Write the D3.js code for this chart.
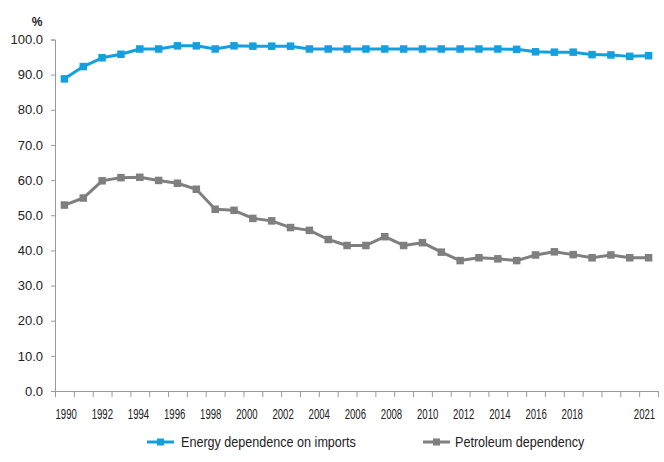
<!DOCTYPE html>
<html>
<head>
<meta charset="utf-8">
<script src="https://cdn.jsdelivr.net/npm/d3@7"></script>
<style>
  html, body { margin: 0; padding: 0; background: #fff; }
  svg { display: block; }
  text { font-family: "Liberation Sans", Arial, sans-serif; fill: #222; }
</style>
</head>
<body>
<svg id="chart" width="664" height="462"></svg>
<script>
// Years on the category axis
const years = d3.range(1990, 2022);

// Share of primary energy supplied by imports (%)
const energyImports = [
  88.8, 92.3, 94.8, 95.8, 97.3, 97.3, 98.2, 98.2, 97.3, 98.2,
  98.1, 98.1, 98.1, 97.3, 97.3, 97.3, 97.3, 97.3, 97.3, 97.3,
  97.3, 97.3, 97.3, 97.3, 97.2, 96.5, 96.4, 96.4, 95.7, 95.6,
  95.2, 95.4
];

// Petroleum share of primary energy (%)
const petroleum = [
  52.9, 54.9, 59.8, 60.7, 60.8, 59.9, 59.1, 57.4, 51.7, 51.4,
  49.1, 48.4, 46.5, 45.7, 43.1, 41.4, 41.4, 43.9, 41.4, 42.2,
  39.5, 37.1, 37.9, 37.6, 37.1, 38.7, 39.6, 38.8, 37.9, 38.7,
  37.9, 37.9
];

// Year labels printed under the axis (2020 left blank)
const yearLabels = ["1990", "1992", "1994", "1996", "1998", "2000", "2002", "2004",
  "2006", "2008", "2010", "2012", "2014", "2016", "2018", "", "2021"];

const yTicks = d3.range(0, 101, 10);

const seriesNames = ["Energy dependence on imports", "Petroleum dependency"];
const seriesColors = ["#14a0de", "#7f7f7f"];
const seriesValues = [energyImports, petroleum];

const svg = d3.select("#chart");

const plot = { left: 55, right: 658, top: 39.5, bottom: 391 };

const x = d3.scaleLinear().domain([1989.5, 2021.5]).range([plot.left, plot.right]);
const y = d3.scaleLinear().domain([0, 100]).range([plot.bottom, plot.top]);
const xLabel = d3.scalePoint().domain(yearLabels.map((d, i) => i)).range([65.7, 644]);

// Y axis
const yAxis = svg.append("g")
  .attr("transform", `translate(${plot.left},0)`)
  .call(d3.axisLeft(y).tickValues(yTicks).tickFormat(d3.format(".1f")).tickSize(4).tickPadding(8));
yAxis.select(".domain").attr("stroke", "#9a9a9a");
yAxis.selectAll(".tick line").attr("stroke", "#9a9a9a");
yAxis.selectAll(".tick text")
  .style("font-family", "'Liberation Sans', Arial, sans-serif")
  .style("font-size", "13px").attr("fill", "#333");

// X axis: tick marks at category boundaries
const boundaries = d3.range(1989.5, 2022, 1);
const xAxis = svg.append("g")
  .attr("transform", `translate(0,${plot.bottom})`)
  .call(d3.axisBottom(x).tickValues(boundaries).tickFormat("").tickSize(6).tickSizeOuter(0));
xAxis.select(".domain").attr("stroke", "#9a9a9a");
xAxis.selectAll(".tick line").attr("stroke", "#9a9a9a");

// X axis: year labels
const xLab = svg.append("g")
  .attr("transform", `translate(0,${plot.bottom})`)
  .call(d3.axisBottom(xLabel).tickFormat(i => yearLabels[i]).tickSize(0).tickPadding(17));
xLab.select(".domain").remove();
xLab.selectAll(".tick text")
  .style("font-family", "'Liberation Sans', Arial, sans-serif")
  .style("font-size", "15px").attr("fill", "#333")
  .attr("transform", "scale(0.64,1)");

// Unit label
svg.append("text").attr("x", 37).attr("y", 26).attr("text-anchor", "middle")
  .style("font-size", "12px").style("font-weight", "bold").attr("fill", "#333").text("%");

// Lines and square markers
const line = d3.line().x((d, i) => x(years[i])).y(d => y(d));
const markerSize = 7.5;

seriesValues.forEach((vals, s) => {
  svg.append("path").datum(vals)
    .attr("fill", "none").attr("stroke", seriesColors[s])
    .attr("stroke-width", 3).attr("stroke-linejoin", "round")
    .attr("d", line);
  svg.append("g").selectAll("rect").data(vals).join("rect")
    .attr("x", (d, i) => x(years[i]) - markerSize / 2)
    .attr("y", d => y(d) - markerSize / 2)
    .attr("width", markerSize).attr("height", markerSize)
    .attr("fill", seriesColors[s]);
});

// Legend
const legendItems = [{ x0: 147, tx: 181 }, { x0: 423, tx: 455 }];
const ly = 442;
legendItems.forEach((it, s) => {
  const g = svg.append("g");
  g.append("line").attr("x1", it.x0).attr("x2", it.x0 + 27).attr("y1", ly).attr("y2", ly)
    .attr("stroke", seriesColors[s]).attr("stroke-width", 3);
  g.append("rect").attr("x", it.x0 + 13.5 - 3.5).attr("y", ly - 3.5).attr("width", 7).attr("height", 7)
    .attr("fill", seriesColors[s]);
  g.append("text").attr("transform", `translate(${it.tx},${ly + 5}) scale(0.9,1)`)
    .style("font-size", "14px").attr("fill", "#222").text(seriesNames[s]);
});
</script>
</body>
</html>
